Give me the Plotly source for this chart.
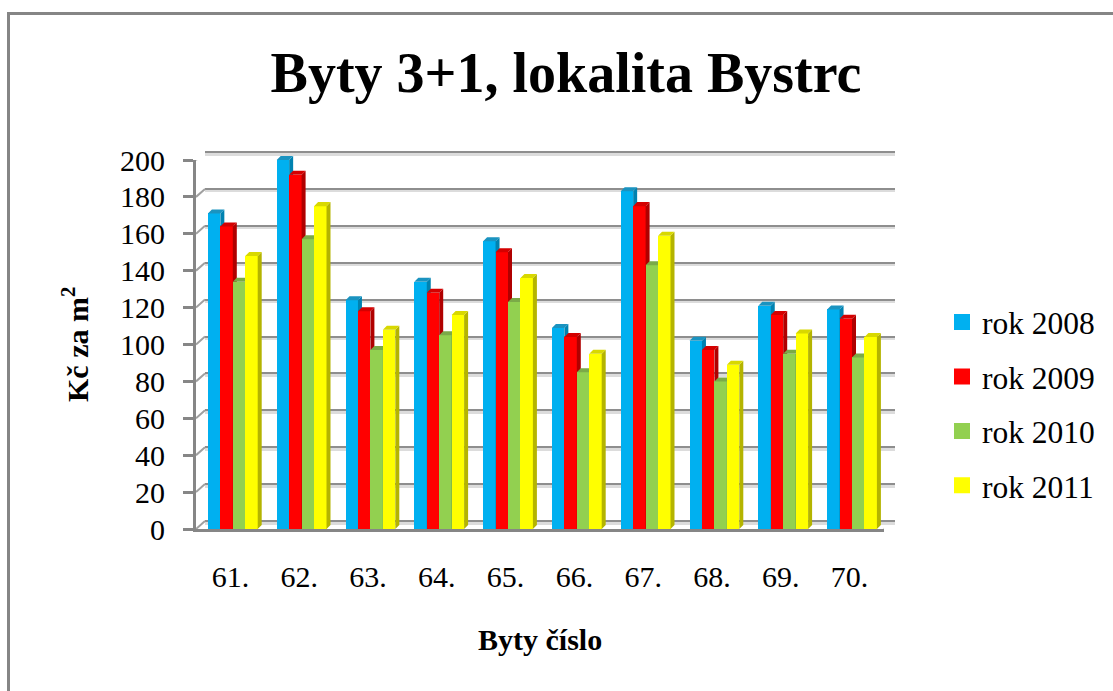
import plotly.graph_objects as go

W, H = 1113, 691

# ---- data ----
categories = ["61.", "62.", "63.", "64.", "65.", "66.", "67.", "68.", "69.", "70."]
rok_2008 = [171, 200, 124, 134, 156, 109, 183, 102, 121, 119]
rok_2009 = [164, 192, 118, 128, 150, 104, 175, 97, 116, 114]
rok_2010 = [134, 157, 97, 105, 123, 85, 143, 80, 95, 93]
rok_2011 = [148, 175, 108, 116, 136, 95, 159, 89, 106, 104]
series_names = ["rok 2008", "rok 2009", "rok 2010", "rok 2011"]
y_ticks = [0, 20, 40, 60, 80, 100, 120, 140, 160, 180, 200]

series_values = [rok_2008, rok_2009, rok_2010, rok_2011]
front_colors = ["#00B0F0", "#FF0000", "#92D050", "#FFFF00"]
top_colors = ["#1A93C0", "#D40000", "#7BAA48", "#D8D800"]
side_colors = ["#0082B0", "#B00000", "#6B9A3A", "#B4B400"]

# ---- pixel geometry of the plot frame ----
X0, X1, Y0, Y1 = 196, 884, 529, 160      # front frame
WALL_L, WALL_R, BACK_DY = 205, 895, 8    # wall position
DEPTH_X, DEPTH_Y = 4, 4                  # bar depth


def dom_x(a, b):
    return [a / W, b / W]


def dom_y(bottom, top):
    return [1 - bottom / H, 1 - top / H]


px_x = (X1 - X0) / 10
px_y = (Y0 - Y1) / 200
bar_w = 12.45 / px_x
bar_start = (207.9 - (X0 + px_x / 2)) / px_x
dx, dy = DEPTH_X / px_x, DEPTH_Y / px_y
xs = list(range(len(categories)))
X_RANGE = [-0.5, 9.5]
Y_RANGE = [0, 200]
# headroom so that wall lines at the range ends and bar tops are not clipped
PAD_LOW, PAD_HIGH = 10, 20
Y_EXT = [Y_RANGE[0] - PAD_LOW, Y_RANGE[1] + PAD_HIGH]


def ext_dom(bottom, top):
    return dom_y(bottom + PAD_LOW * px_y, top - PAD_HIGH * px_y)


fig = go.Figure()

layout_axes = {}
hidden = dict(range=X_RANGE, visible=False, showgrid=False, zeroline=False)

# wall gridline shadow (x / y) and wall gridlines (x2 / y2)
layout_axes["xaxis"] = dict(hidden, domain=dom_x(WALL_L, WALL_R), anchor="y")
layout_axes["yaxis"] = dict(range=Y_EXT, domain=ext_dom(Y0 - BACK_DY + 2, Y1 - BACK_DY + 2), anchor="x",
                            tickvals=y_ticks, showticklabels=False, ticks="", showline=False,
                            showgrid=True, gridcolor="#DCDCDC", gridwidth=3, zeroline=False)
layout_axes["xaxis2"] = dict(hidden, domain=dom_x(WALL_L, WALL_R), anchor="y2")
layout_axes["yaxis2"] = dict(range=Y_EXT, domain=ext_dom(Y0 - BACK_DY, Y1 - BACK_DY), anchor="x2",
                             tickvals=y_ticks, showticklabels=False, ticks="", showline=False,
                             showgrid=True, gridcolor="#8E8E8E", gridwidth=2, zeroline=False)

# dummy traces so the two wall subplots are created
for xa, ya in (("x", "y"), ("x2", "y2")):
    fig.add_trace(go.Scatter(x=[None], y=[None], xaxis=xa, yaxis=ya, showlegend=False, hoverinfo="skip"))

# front axes carry the ticks and labels
layout_axes["xaxis3"] = dict(range=X_RANGE, domain=dom_x(X0, X1), anchor="y3", tickmode="array", tickvals=xs,
                             ticktext=categories, ticks="", showline=True, linecolor="#868686", linewidth=3,
                             showgrid=False, zeroline=False, ticklabelstandoff=19,
                             tickfont=dict(family="Liberation Serif", size=30, color="#000000"))
layout_axes["yaxis3"] = dict(range=Y_RANGE, domain=dom_y(Y0, Y1), anchor="x3", tickmode="array", tickvals=y_ticks,
                             ticks="outside", ticklen=10, tickwidth=3, tickcolor="#868686", showline=True,
                             linecolor="#868686", linewidth=3, showgrid=False, zeroline=False,
                             ticklabelstandoff=12,
                             tickfont=dict(family="Liberation Serif", size=30, color="#000000"))

# short diagonals from the front frame to the wall
diag_x, diag_y = [], []
for t in y_ticks:
    diag_x += [X_RANGE[0], X_RANGE[0] + (WALL_L - X0) / px_x, None]
    diag_y += [t, t + BACK_DY / px_y, None]
diag_x += [X_RANGE[1], X_RANGE[1] + (WALL_R - X1) / px_x, None]
diag_y += [0, BACK_DY / px_y, None]
fig.add_trace(go.Scatter(x=diag_x, y=diag_y, mode="lines", line=dict(color="#A0A0A0", width=2),
                         xaxis="x3", yaxis="y3", cliponaxis=False, showlegend=False, hoverinfo="skip"))

# one stacked pair of axes per series, so each series covers the one before it
for i, (name, vals) in enumerate(zip(series_names, series_values)):
    n = i + 4
    xa, ya = f"x{n}", f"y{n}"
    layout_axes[f"xaxis{n}"] = dict(hidden, domain=dom_x(X0, X1), anchor=ya)
    layout_axes[f"yaxis{n}"] = dict(range=Y_EXT, domain=ext_dom(Y0, Y1), anchor=xa, visible=False,
                                    showgrid=False, zeroline=False)
    offset = bar_start + i * bar_w
    fig.add_trace(go.Bar(x=xs, y=vals, width=bar_w, offset=offset, marker=dict(color=front_colors[i], line=dict(width=0)),
                         name=name, xaxis=xa, yaxis=ya, showlegend=False, legendgroup=name))
    side_x, side_y, top_x, top_y = [], [], [], []
    for c, v in zip(xs, vals):
        l = c + offset
        r = l + bar_w
        side_x += [r, r + dx, r + dx, r, r, None]
        side_y += [0, dy, v + dy, v, 0, None]
        top_x += [l, l + dx, r + dx, r, l, None]
        top_y += [v, v + dy, v + dy, v, v, None]
    fig.add_trace(go.Scatter(x=side_x, y=side_y, mode="lines", fill="toself", fillcolor=side_colors[i],
                             line=dict(width=0), xaxis=xa, yaxis=ya, showlegend=False,
                             hoverinfo="skip"))
    fig.add_trace(go.Scatter(x=top_x, y=top_y, mode="lines", fill="toself", fillcolor=top_colors[i],
                             line=dict(width=0), xaxis=xa, yaxis=ya, showlegend=False,
                             hoverinfo="skip"))
    # legend entry (swatch slightly larger than the default bar key)
    fig.add_trace(go.Bar(x=[None], y=[None], name=name, legendgroup=name, xaxis=xa, yaxis=ya,
                         marker=dict(color=front_colors[i], line=dict(color=front_colors[i], width=4))))

fig.update_layout(
    width=W, height=H, autosize=False,
    margin=dict(l=0, r=0, t=0, b=0, autoexpand=False),
    paper_bgcolor="white", plot_bgcolor="rgba(0,0,0,0)",
    barmode="overlay", bargap=0,
    title=dict(text="Byty 3+1, lokalita Bystrc", x=566 / W, xanchor="center", y=1 - 72 / H, yanchor="middle",
               font=dict(family="Liberation Serif", size=56, color="#000000", weight="bold")),
    legend=dict(x=942 / W, y=1 - 295 / H, xanchor="left", yanchor="top", traceorder="grouped", tracegroupgap=10.5,
                font=dict(family="Liberation Serif", size=31.5, color="#000000"), bgcolor="rgba(0,0,0,0)"),
    annotations=[
        dict(text="Byty číslo", xref="paper", yref="paper", x=540 / W, y=1 - 639 / H, showarrow=False,
             xanchor="center", yanchor="middle",
             font=dict(family="Liberation Serif", size=30, color="#000000", weight="bold")),
        dict(text="Kč za m<sup>2</sup>", xref="paper", yref="paper", x=75 / W, y=1 - 345 / H, showarrow=False,
             xanchor="center", yanchor="middle", textangle=-90,
             font=dict(family="Liberation Serif", size=30, color="#000000", weight="bold")),
    ],
    shapes=[
        dict(type="line", xref="paper", yref="paper", x0=8.5 / W, x1=8.5 / W, y0=0, y1=1 - 12 / H,
             line=dict(color="#858585", width=3)),
        dict(type="line", xref="paper", yref="paper", x0=7 / W, x1=1, y0=1 - 13.5 / H, y1=1 - 13.5 / H,
             line=dict(color="#858585", width=3)),
    ],
    **layout_axes,
)

fig.write_html("out.html", config=dict(displayModeBar=False),
               post_script="document.body.style.margin='0';")
